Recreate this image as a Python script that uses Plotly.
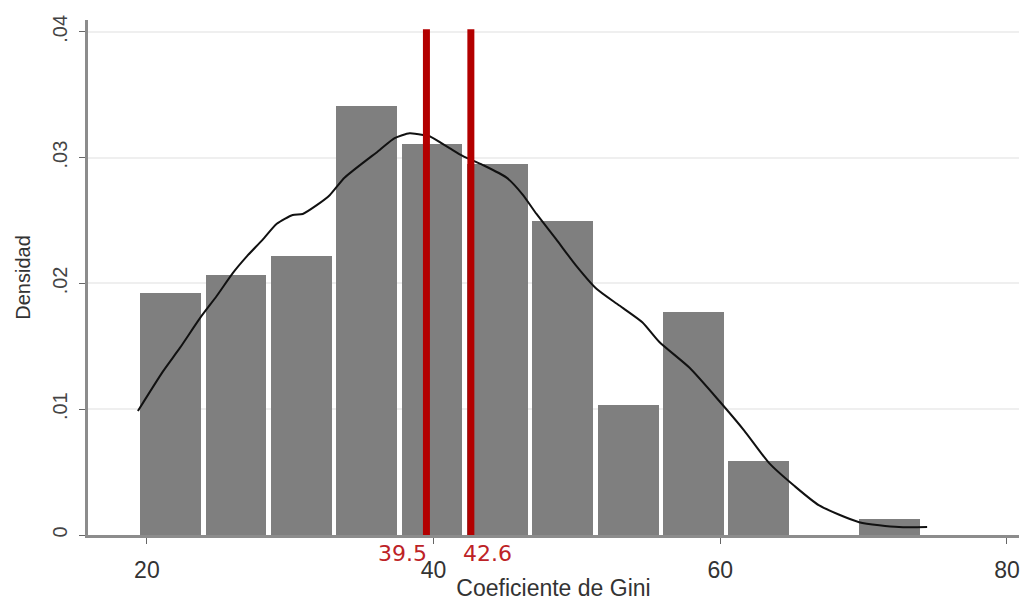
import plotly.graph_objects as go

# Histogram of the Gini coefficient (density scale)
bin_start = 19.37
bin_width = 4.56
bar_density = [0.0192, 0.0207, 0.0222, 0.0341, 0.0311, 0.0295,
               0.0250, 0.0103, 0.0177, 0.0059, 0.0, 0.00125]

# Kernel density estimate
kde_x = [19.37, 21.11, 22.30, 23.69, 24.88, 25.99, 26.97, 28.08, 29.06, 30.17,
         30.87, 31.85, 32.75, 33.80, 36.24, 37.28, 38.33, 39.37, 39.72, 41.11,
         42.02, 43.41, 45.09, 46.20, 47.18, 48.57, 49.97, 51.36, 52.96, 54.56,
         55.75, 57.84, 59.93, 61.67, 63.41, 65.16, 66.90, 69.69, 72.47, 74.43]
kde_y = [0.00986, 0.01299, 0.01487, 0.01722, 0.01902, 0.02082, 0.02215, 0.02348,
         0.02474, 0.02544, 0.02552, 0.02622, 0.02701, 0.02842, 0.03061, 0.03155,
         0.03194, 0.03178, 0.03170, 0.03076, 0.03014, 0.02943, 0.02841, 0.02708,
         0.02552, 0.02348, 0.02137, 0.01957, 0.01824, 0.01691, 0.01534, 0.01331,
         0.01065, 0.00830, 0.00571, 0.00391, 0.00235, 0.00102, 0.00063, 0.00063]

# Reference values marked with vertical lines
ref_values = [39.5, 42.6]
ref_labels = ["39.5", "42.6"]

x_ticks = [20, 40, 60, 80]
y_ticks = [0, 0.01, 0.02, 0.03, 0.04]
y_tick_labels = ["0", ".01", ".02", ".03", ".04"]

bar_centers = [bin_start + bin_width * (i + 0.5) for i in range(len(bar_density))]

fig = go.Figure()
fig.add_trace(go.Bar(
    x=bar_centers, y=bar_density, width=bin_width * 0.93,
    marker=dict(color="#7f7f7f", line=dict(width=0)),
    showlegend=False,
))
fig.add_trace(go.Scatter(
    x=kde_x, y=kde_y, mode="lines",
    line=dict(color="#111111", width=2, shape="spline", smoothing=0.6),
    showlegend=False,
))
for v in ref_values:
    fig.add_trace(go.Scatter(
        x=[v, v], y=[0, 0.0402], mode="lines",
        line=dict(color="#b30000", width=7), showlegend=False,
    ))

annotations = []
for v, lab, anchor, shift in zip(ref_values, ref_labels, ["right", "left"], [3, -10]):
    annotations.append(dict(
        x=v, y=0, xref="x", yref="paper", text=lab, showarrow=False,
        xanchor=anchor, yanchor="top", xshift=shift, yshift=-4,
        font=dict(family="DejaVu Sans", size=22, color="#bd2226"),
    ))

fig.update_layout(
    width=1020, height=601,
    margin=dict(l=88, r=0, t=20, b=58),
    paper_bgcolor="white", plot_bgcolor="white",
    bargap=0,
    annotations=annotations,
    xaxis=dict(
        range=[15.89, 80.84], tickvals=x_ticks,
        ticks="outside", ticklen=6, tickwidth=1, tickcolor="#666",
        showline=True, linecolor="#8c8c8c", linewidth=3,
        showgrid=False, zeroline=False,
        tickfont=dict(family="Liberation Sans, Arial", size=23, color="#333"),
        ticklabelstandoff=6, ticklabeloverflow="allow",
        title=dict(text="Coeficiente de Gini", standoff=2,
                   font=dict(family="Liberation Sans, Arial", size=23, color="#333")),
    ),
    yaxis=dict(
        range=[0, 0.04094], tickvals=y_ticks, ticktext=y_tick_labels,
        tickangle=-90,
        ticks="outside", ticklen=6, tickwidth=1, tickcolor="#666",
        showline=True, linecolor="#8c8c8c", linewidth=3,
        showgrid=True, gridcolor="#efefef", gridwidth=2, zeroline=False,
        tickfont=dict(family="Liberation Sans, Arial", size=20, color="#444"),
        ticklabelstandoff=4,
        title=dict(text="Densidad", standoff=14,
                   font=dict(family="Liberation Sans, Arial", size=20, color="#333")),
    ),
)

fig.write_html("out.html")
